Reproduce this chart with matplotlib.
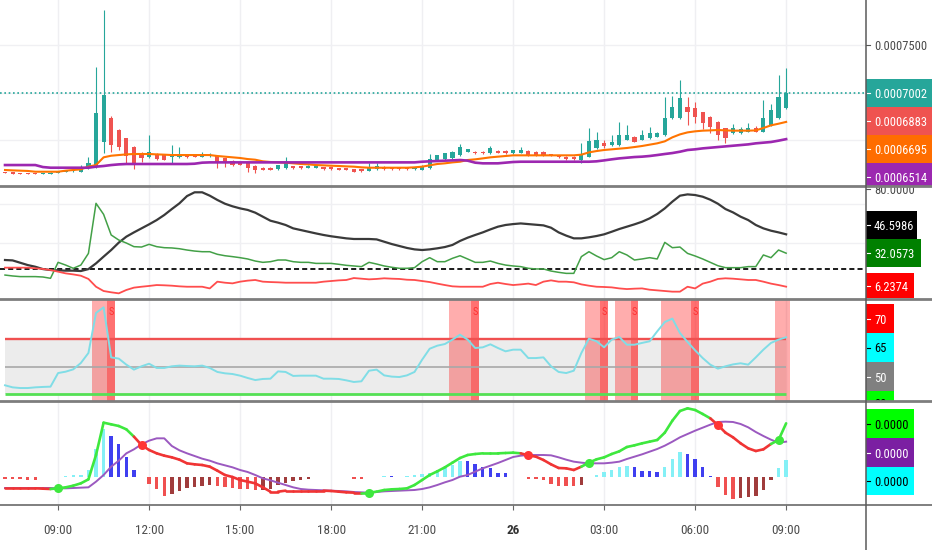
import matplotlib
matplotlib.use('Agg')
import matplotlib.pyplot as plt
from matplotlib import font_manager
from matplotlib.lines import Line2D
from matplotlib.patches import Rectangle
import numpy as np
import pandas as pd

# --- Data: 15 minute bars, prices in units of 1e-7 ---
times = pd.date_range('2019-03-25 07:15', periods=104, freq='15min')

price_open = [6169, 6162, 6158, 6155, 6155, 6146, 6148, 6162, 6169, 6176,
              6172, 6207, 6225, 6487, 6732, 6610, 6522, 6435, 6358, 6330,
              6358, 6344, 6323, 6323, 6344, 6333, 6330, 6334, 6337, 6312,
              6281, 6270, 6270, 6232, 6214, 6214, 6197, 6207, 6232, 6232,
              6214, 6214, 6218, 6218, 6207, 6207, 6197, 6197, 6179, 6197,
              6225, 6214, 6214, 6214, 6197, 6190, 6207, 6295, 6302, 6312,
              6347, 6382, 6382, 6382, 6365, 6393, 6393, 6365, 6372, 6393,
              6379, 6379, 6358, 6337, 6330, 6330, 6295, 6330, 6417, 6477,
              6452, 6452, 6505, 6540, 6505, 6522, 6540, 6557, 6732, 6732,
              6848, 6837, 6795, 6750, 6697, 6627, 6575, 6582, 6592, 6627,
              6592, 6662, 6732, 6837]
price_high = [6172, 6165, 6160, 6158, 6158, 6158, 6165, 6183, 6186, 6195,
              6242, 6330, 7275, 7870, 6760, 6620, 6530, 6440, 6382, 6557,
              6365, 6350, 6452, 6435, 6350, 6337, 6382, 6372, 6345, 6318,
              6290, 6275, 6275, 6240, 6218, 6218, 6246, 6330, 6236, 6236,
              6240, 6240, 6222, 6222, 6212, 6212, 6200, 6200, 6260, 6260,
              6230, 6218, 6218, 6218, 6218, 6240, 6358, 6350, 6372, 6390,
              6463, 6415, 6390, 6390, 6442, 6400, 6400, 6405, 6435, 6400,
              6385, 6385, 6362, 6340, 6335, 6335, 6477, 6627, 6592, 6505,
              6557, 6697, 6662, 6545, 6610, 6645, 6590, 6960, 6967, 7135,
              6960, 6907, 6800, 6755, 6705, 6635, 6673, 6645, 6680, 6652,
              6925, 6883, 7187, 7257]
price_low = [6155, 6150, 6145, 6143, 6143, 6143, 6145, 6158, 6165, 6172,
             6169, 6200, 6215, 6365, 6382, 6400, 6260, 6197, 6277, 6320,
             6295, 6290, 6260, 6315, 6318, 6322, 6325, 6330, 6207, 6225,
             6235, 6240, 6172, 6162, 6185, 6185, 6190, 6200, 6200, 6200,
             6210, 6210, 6192, 6192, 6185, 6185, 6165, 6170, 6175, 6192,
             6192, 6192, 6192, 6192, 6192, 6185, 6200, 6290, 6298, 6305,
             6340, 6375, 6360, 6360, 6360, 6365, 6360, 6360, 6368, 6342,
             6340, 6340, 6332, 6318, 6298, 6298, 6260, 6325, 6410, 6417,
             6445, 6445, 6500, 6480, 6500, 6518, 6535, 6550, 6725, 6725,
             6662, 6680, 6617, 6575, 6505, 6470, 6570, 6568, 6588, 6588,
             6588, 6655, 6725, 6830]
price_close = [6160, 6152, 6148, 6146, 6146, 6155, 6162, 6179, 6183, 6190,
               6214, 6260, 6785, 6977, 6452, 6435, 6337, 6260, 6312, 6375,
               6302, 6295, 6340, 6358, 6323, 6327, 6347, 6340, 6277, 6260,
               6242, 6246, 6207, 6190, 6190, 6190, 6242, 6260, 6207, 6207,
               6235, 6235, 6197, 6197, 6190, 6190, 6172, 6176, 6214, 6235,
               6197, 6197, 6197, 6197, 6214, 6232, 6302, 6344, 6365, 6382,
               6435, 6407, 6365, 6365, 6417, 6372, 6365, 6400, 6400, 6347,
               6344, 6344, 6337, 6323, 6302, 6302, 6347, 6498, 6505, 6442,
               6487, 6557, 6557, 6487, 6557, 6575, 6582, 6732, 6855, 6942,
               6802, 6750, 6687, 6645, 6557, 6522, 6627, 6617, 6627, 6592,
               6732, 6820, 6960, 7002]
ma_fast = [6190, 6186, 6183, 6180, 6172, 6172, 6172, 6172, 6183, 6190,
           6197, 6225, 6242, 6323, 6340, 6347, 6354, 6358, 6358, 6358,
           6354, 6351, 6347, 6347, 6347, 6347, 6347, 6347, 6337, 6330,
           6323, 6316, 6305, 6298, 6281, 6274, 6270, 6267, 6260, 6253,
           6249, 6242, 6239, 6235, 6232, 6228, 6225, 6218, 6214, 6214,
           6214, 6214, 6214, 6214, 6218, 6225, 6239, 6253, 6260, 6270,
           6277, 6295, 6302, 6312, 6323, 6330, 6337, 6344, 6344, 6344,
           6344, 6344, 6344, 6344, 6344, 6344, 6351, 6375, 6389, 6400,
           6407, 6414, 6421, 6431, 6442, 6456, 6470, 6491, 6533, 6564,
           6585, 6596, 6603, 6606, 6610, 6606, 6603, 6603, 6603, 6606,
           6631, 6659, 6676, 6695]
ma_slow = [6242, 6242, 6242, 6242, 6242, 6221, 6214, 6214, 6214, 6214,
           6214, 6214, 6225, 6232, 6242, 6249, 6253, 6253, 6253, 6253,
           6253, 6253, 6253, 6253, 6253, 6256, 6267, 6270, 6270, 6270,
           6270, 6270, 6270, 6270, 6270, 6270, 6270, 6270, 6270, 6270,
           6270, 6270, 6270, 6270, 6270, 6270, 6270, 6270, 6270, 6270,
           6270, 6270, 6270, 6270, 6270, 6277, 6281, 6284, 6288, 6291,
           6295, 6288, 6267, 6260, 6260, 6260, 6267, 6274, 6277, 6277,
           6277, 6277, 6277, 6277, 6277, 6277, 6277, 6277, 6281, 6291,
           6302, 6312, 6319, 6326, 6330, 6337, 6347, 6358, 6368, 6382,
           6400, 6407, 6417, 6424, 6431, 6438, 6445, 6452, 6459, 6470,
           6477, 6484, 6498, 6514]
third_ma_last = 6883

adx = [26.8, 26.5, 24.7, 22.9, 21.6, 19.8, 19.1, 18.8, 18.6, 18.6,
       18.3, 19.8, 24.2, 29.4, 34.5, 40.2, 44.8, 48.1, 51.2, 54.3,
       57.6, 61.5, 66.1, 70.5, 76.1, 79.0, 79.0, 76.4, 73.1, 70.2,
       68.2, 66.6, 65.4, 63.3, 60.2, 57.1, 55.6, 53.8, 51.2, 49.9,
       48.6, 47.3, 46.1, 45.1, 44.3, 43.5, 43.0, 43.0, 43.0, 42.7,
       40.9, 39.1, 37.6, 36.1, 35.0, 34.5, 35.0, 35.8, 36.8, 38.4,
       41.5, 44.0, 46.1, 48.1, 50.4, 52.5, 53.8, 54.5, 55.0, 54.5,
       54.0, 53.5, 51.7, 48.1, 45.6, 43.5, 43.5, 44.3, 45.3, 46.6,
       48.6, 50.7, 52.5, 54.3, 56.3, 58.9, 62.3, 66.6, 71.8, 76.4,
       77.4, 76.9, 75.6, 73.3, 70.2, 66.1, 63.5, 60.2, 57.6, 53.8,
       51.2, 49.4, 48.1, 46.5986]
plus_di = [15.2, 14.5, 14.0, 14.0, 14.0, 13.7, 12.7, 25.0, 22.9, 20.4,
           22.9, 31.9, 70.5, 62.0, 46.1, 42.2, 39.9, 37.1, 36.8, 38.9,
           37.1, 36.3, 36.1, 35.5, 34.5, 33.7, 33.2, 33.2, 31.2, 30.1,
           29.4, 28.6, 27.6, 26.0, 25.0, 25.5, 26.8, 26.8, 25.5, 25.0,
           25.0, 24.2, 24.2, 24.2, 23.5, 22.7, 22.2, 21.7, 25.0, 23.7,
           22.2, 21.2, 20.4, 20.4, 20.9, 25.5, 28.6, 25.5, 25.5, 28.1,
           30.1, 27.6, 25.0, 25.0, 26.0, 24.2, 22.9, 22.2, 21.7, 20.4,
           19.9, 19.9, 18.3, 17.3, 16.5, 16.5, 29.4, 33.2, 29.9, 27.1,
           28.6, 33.2, 30.7, 26.8, 27.6, 28.6, 27.6, 40.4, 36.3, 36.8,
           31.9, 29.9, 27.6, 25.0, 22.4, 20.9, 20.9, 20.9, 21.7, 21.7,
           30.7, 28.6, 34.5, 32.0573]
minus_di = [20.9, 20.9, 20.9, 20.9, 20.4, 19.9, 19.1, 17.8, 16.5, 15.7,
            14.7, 12.2, 6.2, 2.9, 1.9, 1.1, 3.7, 5.5, 6.2, 6.8,
            7.5, 7.3, 7.0, 6.5, 6.2, 6.2, 6.2, 4.9, 10.1, 9.3,
            8.8, 10.1, 10.9, 11.4, 10.1, 9.8, 9.6, 9.3, 9.3, 9.3,
            9.3, 9.3, 10.1, 10.6, 11.1, 11.4, 12.9, 12.4, 11.9, 12.2,
            12.7, 12.4, 12.2, 11.6, 11.4, 10.6, 9.8, 8.6, 7.5, 6.5,
            6.2, 6.2, 6.2, 6.2, 8.3, 9.3, 8.3, 7.5, 8.0, 8.6,
            7.5, 10.1, 11.1, 10.1, 10.1, 9.6, 8.0, 7.0, 6.2, 6.0,
            5.7, 4.9, 4.4, 4.7, 4.9, 3.9, 3.4, 2.9, 2.4, 2.4,
            6.2, 4.9, 8.6, 10.1, 12.2, 12.7, 12.4, 11.9, 11.4, 11.4,
            10.1, 8.6, 7.5, 6.2374]
adx_level = 20

rsi = [36.7, 35.2, 34.7, 34.7, 35.2, 35.5, 35.7, 45.6, 46.6, 48.3,
       52.9, 60.2, 89.3, 93.4, 57.0, 56.1, 51.7, 48.1, 50.5, 52.4,
       49.3, 49.3, 50.5, 51.0, 50.7, 50.5, 51.0, 49.3, 46.4, 45.4,
       44.9, 43.7, 42.0, 40.5, 41.3, 41.5, 46.8, 46.4, 43.5, 43.7,
       43.7, 43.7, 41.5, 41.5, 41.3, 40.3, 39.1, 39.6, 47.3, 48.1,
       43.9, 43.0, 42.7, 43.9, 46.4, 55.3, 63.3, 65.5, 66.7, 69.9,
       73.5, 69.9, 63.8, 64.3, 66.5, 63.8, 61.4, 62.6, 62.6, 56.5,
       56.5, 57.0, 50.5, 46.4, 45.6, 47.3, 60.2, 70.6, 68.7, 64.3,
       69.9, 71.8, 66.2, 66.2, 67.5, 68.7, 75.9, 82.7, 85.2, 74.7,
       68.2, 62.1, 56.5, 51.7, 48.8, 50.5, 51.9, 52.7, 51.7, 57.0,
       62.6, 67.5, 69.9, 71.6]
rsi_upper, rsi_mid, rsi_lower = 70, 50, 30
rsi_tags = ['70', '65', '50', '30']
bg_bars = [12, 13, 59, 60, 61, 77, 78, 81, 82, 87, 88, 89, 90, 102, 103]
sell_bars = [14, 62, 79, 83, 91]

# MACD values in units of 1e-7
macd = [-3.3, -3.3, -3.3, -3.3, -3.3, -3.4, -3.5, -3.3, -3.0, -2.5,
        -1.8, -0.6, 6.7, 16.4, 15.9, 15.4, 14.4, 12.2, 9.7, 8.2,
        7.2, 6.5, 6.0, 5.3, 4.2, 3.9, 3.7, 3.2, 2.0, 0.7,
        0.1, -0.8, -1.3, -1.8, -3.0, -4.3, -4.3, -4.0, -4.0, -4.0,
        -4.0, -4.0, -4.0, -4.1, -4.3, -4.5, -4.6, -4.6, -4.6, -4.3,
        -3.8, -3.6, -3.5, -3.3, -2.3, -0.8, 0.7, 1.8, 3.0, 4.4,
        5.8, 6.7, 7.0, 7.2, 7.2, 7.2, 7.3, 7.4, 7.2, 6.6,
        6.2, 5.2, 3.9, 2.8, 2.7, 2.2, 3.2, 4.4, 5.4, 6.0,
        7.0, 7.8, 9.1, 9.6, 10.2, 10.7, 11.2, 13.4, 17.0, 19.9,
        20.7, 20.2, 19.0, 17.7, 15.7, 13.4, 12.0, 10.2, 8.7, 7.9,
        8.4, 10.0, 11.2, 16.2]
signal = [-3.2, -3.2, -3.2, -3.2, -3.2, -3.2, -3.2, -3.3, -3.3, -3.2,
          -3.1, -3.0, -1.3, 0.7, 3.2, 5.0, 7.2, 8.4, 9.9, 11.0,
          11.7, 11.7, 9.4, 8.1, 7.2, 6.4, 5.6, 5.0, 4.2, 3.6,
          3.0, 2.2, 1.6, 0.7, -0.3, -0.9, -1.6, -2.3, -3.0, -3.5,
          -3.7, -3.8, -3.9, -4.0, -4.1, -4.2, -4.4, -4.5, -4.6, -4.4,
          -4.2, -4.1, -4.0, -3.9, -3.8, -3.5, -3.0, -2.3, -1.5, -0.8,
          0.2, 0.7, 1.7, 2.7, 3.5, 4.3, 5.2, 6.1, 6.5, 6.7,
          6.7, 6.7, 6.6, 6.0, 5.3, 4.7, 4.4, 4.2, 4.2, 4.2,
          4.4, 4.7, 5.5, 6.2, 6.9, 7.7, 8.5, 9.5, 10.7, 12.0,
          13.0, 14.0, 14.9, 15.8, 16.6, 16.7, 16.6, 16.0, 15.0, 13.6,
          12.4, 11.3, 10.4, 10.7]
hist = [-0.5, -0.55, -0.6, -0.65, -0.7, 0, 0, 0, 0.5, 0.6,
        0.7, 2.2, 8.5, 14.5, 12.5, 10.0, 6.0, 2.2, 0, -2.0,
        -3.5, -5.5, -5.0, -4.0, -3.3, -3.0, -2.7, -2.3, -2.5, -2.8,
        -3.2, -3.4, -3.6, -3.8, -3.7, -3.4, -2.4, -1.6, -1.2, -0.8,
        -0.6, 0, 0, 0, 0, 0, -0.5, -0.6, 0, 0,
        0.5, 0.45, 0, 0.5, 0.7, 0.9, 1.2, 2.2, 3.2, 3.7,
        5.0, 4.8, 4.0, 3.2, 2.7, 1.4, 1.2, 0, 0, -0.5,
        -0.6, -0.7, -2.0, -2.5, -2.6, -2.7, -2.2, 0, 0.8, 1.5,
        2.2, 3.0, 3.5, 3.2, 2.0, 1.8, 1.7, 3.2, 5.5, 7.5,
        7.0, 5.5, 3.0, 0.5, -2.8, -5.3, -6.5, -6.3, -6.0, -5.6,
        -3.8, -0.8, 2.7, 5.2]

# --- Fonts: prefer a narrow face, like the chart's price scale ---
installed = {f.name for f in font_manager.fontManager.ttflist}
if 'Liberation Sans Narrow' in installed:
    FONT, TAG_SIZE, TICK_SIZE = 'Liberation Sans Narrow', 9.5, 10
elif 'Roboto Condensed' in installed:
    FONT, TAG_SIZE, TICK_SIZE = 'Roboto Condensed', 9, 9.5
else:
    FONT, TAG_SIZE, TICK_SIZE = 'Liberation Sans', 8, 8.5
plt.rcParams['font.family'] = [FONT, 'DejaVu Sans']

# --- Arrays ---
x = np.arange(len(times))
o = np.array(price_open) * 1e-7
h = np.array(price_high) * 1e-7
l = np.array(price_low) * 1e-7
c = np.array(price_close) * 1e-7
fast = np.array(ma_fast) * 1e-7
slow = np.array(ma_slow) * 1e-7
macd = np.array(macd)
signal = np.array(signal)
hist = np.array(hist)

tick_idx = [k for k, t in enumerate(times) if t.minute == 0 and t.hour % 3 == 0]
tick_lab = [str(times[k].day) if times[k].hour == 0 else times[k].strftime('%H:%M')
            for k in tick_idx]

# --- Layout (figure pixels) ---
W, H = 932, 550
PLOT_RIGHT = 865
PANES = [(0, 186), (186, 299), (299, 401), (401, 505)]
YLIMS = [(6022e-7, 7975e-7), (-3.26, 83.86), (25.27, 99.45), (-8.3, 22.9)]

fig = plt.figure(figsize=(W / 100, H / 100), dpi=100)
fig.patch.set_facecolor('white')
axes, tags = [], []
for (top, bot), ylim in zip(PANES, YLIMS):
    ax = fig.add_axes([0, 1 - bot / H, PLOT_RIGHT / W, (bot - top) / H])
    ax.set_xlim(-0.66, 113.4)
    ax.set_ylim(*ylim)
    for s in ax.spines.values():
        s.set_visible(False)
    ax.set_yticks([])
    ax.set_xticks([])
    for t in tick_idx:
        ax.axvline(t, color='#efeff2', lw=1, zorder=0)
    lab = fig.add_axes([(PLOT_RIGHT + 1) / W, 1 - bot / H,
                        (W - PLOT_RIGHT - 1) / W, (bot - top) / H])
    lab.set_xlim(PLOT_RIGHT + 1, W)
    lab.set_ylim(bot, top)
    lab.axis('off')
    axes.append(ax)
    tags.append(lab)
ax1, ax2, ax3, ax4 = axes


def tag(lab, top, bot, right, text, fc, tc='white', text_y=None):
    lab.add_patch(Rectangle((PLOT_RIGHT + 1, top), right - PLOT_RIGHT - 1, bot - top,
                            facecolor=fc, edgecolor='none'))
    ty = (top + bot) / 2 if text_y is None else text_y
    lab.plot([PLOT_RIGHT + 2, PLOT_RIGHT + 5], [ty, ty], color=tc, lw=0.8)
    lab.text(874, ty, text, color=tc, fontsize=TAG_SIZE,
             va='center_baseline', ha='left', clip_on=True)


def scale_label(lab, ax, top, bot, value, text, shift=0):
    lo, hi = ax.get_ylim()
    y = top + (hi - value) / (hi - lo) * (bot - top) + shift
    lab.plot([PLOT_RIGHT + 1, PLOT_RIGHT + 5], [y, y], color='#555555', lw=0.8)
    lab.text(874, y, text, color='#4a4a4a', fontsize=TAG_SIZE,
             va='center_baseline', ha='left', clip_on=True)


# --- Pane 1: candles and moving averages ---
for v in (0.00065, 0.0007, 0.00075):
    ax1.axhline(v, color='#f0f0f3', lw=1, zorder=0)
ax1.axhline(c[-1], color='#26a69a', lw=1.2, ls=(0, (1, 1.6)), zorder=1)
col = np.where(c >= o, '#26a69a', '#ef5350')
ax1.vlines(x, l, h, colors=col, lw=0.8, zorder=3)
ax1.bar(x, np.maximum(np.abs(c - o), 14e-7), bottom=np.minimum(o, c), width=0.55,
        color=col, linewidth=0, zorder=4)
ax1.plot(x, fast, color='#ff7400', lw=1.5, zorder=5)
ax1.plot(x, slow, color='#9c27b0', lw=1.9, zorder=5)

scale_label(tags[0], ax1, 0, 186, 0.00075, '0.0007500')
tag(tags[0], 79, 107, W, f'{c[-1]:.7f}', '#26a69a')
tag(tags[0], 107, 135, W, f'{third_ma_last * 1e-7:.7f}', '#ef5350')
tag(tags[0], 135, 163, W, f'{fast[-1]:.7f}', '#ff6d00')
tag(tags[0], 163, 191, W, f'{slow[-1]:.7f}', '#9c27b0')

# --- Pane 2: DMI ---
for v in (40, 70):
    ax2.axhline(v, color='#f0f0f3', lw=1, zorder=0)
ax2.axhline(adx_level, color='#1a1a1a', lw=1.4, ls=(0, (2.6, 1.6)), zorder=2)
ax2.plot(x, adx, color='#3a3a3a', lw=1.6, zorder=3)
ax2.plot(x, plus_di, color='#43a047', lw=1.1, zorder=3)
ax2.plot(x, minus_di, color='#ff4d4d', lw=1.3, zorder=3)

scale_label(tags[1], ax2, 186, 299, 80, '80.0000', shift=-2)
tag(tags[1], 211, 239, 917, f'{adx[-1]:.4f}', '#000000')
tag(tags[1], 239, 267, 921, f'{plus_di[-1]:.4f}', '#008000')
tag(tags[1], 273, 298, 914, f'{minus_di[-1]:.4f}', '#ff0000')

# --- Pane 3: RSI with signal backgrounds ---
ax3.fill_between(x, rsi_lower, rsi_upper, color='#ececec', lw=0, zorder=1)
for b in bg_bars:
    ax3.axvspan(b - 0.5, b + 0.5, color=(1, 0, 0, 0.32), lw=0, zorder=2)
for b in sell_bars:
    ax3.axvspan(b - 0.5, b + 0.5, color=(1, 0.1, 0.1, 0.62), lw=0, zorder=2)
    ax3.text(b, 0.87, 'S', transform=ax3.get_xaxis_transform(), color='#ff3030',
             fontsize=7.5, ha='center', va='center', zorder=6)
ax3.hlines(rsi_upper, x[0], x[-1], color='#f05050', lw=1.7, zorder=3)
ax3.hlines(rsi_mid, x[0], x[-1], color='#a8a8a8', lw=1.2, zorder=3)
ax3.hlines(rsi_lower, x[0], x[-1], color='#55e055', lw=2.0, zorder=3)
ax3.plot(x, rsi, color='#80dde6', lw=1.4, zorder=4)

tag(tags[2], 304, 333, 894, rsi_tags[0], '#ff0000')
tag(tags[2], 333, 362, 894, rsi_tags[1], '#00ffff', 'black')
tag(tags[2], 362, 391, 894, rsi_tags[2], '#808080')
tag(tags[2], 391, 420, 894, rsi_tags[3], '#00ff00', 'black', text_y=402.5)

# --- Pane 4: MACD ---
prev = np.concatenate([hist[:1], hist[:-1]])
hcol = []
for v, p in zip(hist, prev):
    if v >= 0:
        hcol.append('#84f0f6' if v >= p else '#3f3ff0')
    else:
        hcol.append('#f05050' if v <= p else '#a03c3c')
hcol = np.array(hcol)
mask = hist != 0
ax4.bar(x[mask], hist[mask], width=0.45, color=hcol[mask], linewidth=0, zorder=2)
ax4.plot(x, signal, color='#9b59c0', lw=1.4, zorder=3)
state = macd >= signal
for k in range(1, len(x)):
    ax4.plot([k - 1, k], [macd[k - 1], macd[k]], color='#3ee83e' if state[k] else '#f03434',
             lw=1.9, solid_capstyle='round', zorder=4)
for k in np.where(state[1:] != state[:-1])[0] + 1:
    ax4.plot(k, macd[k], 'o', ms=6.5, color='#3ee83e' if state[k] else '#ff3535',
             markeredgewidth=0, zorder=5)

tag(tags[3], 409, 438, 914, f'{macd[-1] * 1e-7:.4f}', '#00ff00', 'black')
tag(tags[3], 438, 467, 914, f'{signal[-1] * 1e-7:.4f}', '#7b1fa2')
tag(tags[3], 467, 495, 914, f'{hist[-1] * 1e-7:.4f}', '#00ffff', 'black')

ax4.set_xticks(tick_idx)
ax4.set_xticklabels(tick_lab)
ax4.tick_params(axis='x', length=3.5, width=0.8, color='#666666', pad=10,
                labelsize=TICK_SIZE, labelcolor='#4d4d4d', direction='out')
for lbl in ax4.get_xticklabels():
    if lbl.get_text() == '26':
        lbl.set_fontweight('bold')
        lbl.set_color('#333333')

# --- Pane separators and price-scale border ---
for y in (186, 299, 401):
    fig.add_artist(Line2D([0, 1], [1 - y / H] * 2, color='#7d7d7d', lw=2.0))
fig.add_artist(Line2D([0, 1], [1 - 505 / H] * 2, color='#6a6a6a', lw=1.2))
fig.add_artist(Line2D([(PLOT_RIGHT + 0.5) / W] * 2, [0, 1], color='#5a5a5a', lw=1.1))

fig.savefig('out.png', dpi=100)
